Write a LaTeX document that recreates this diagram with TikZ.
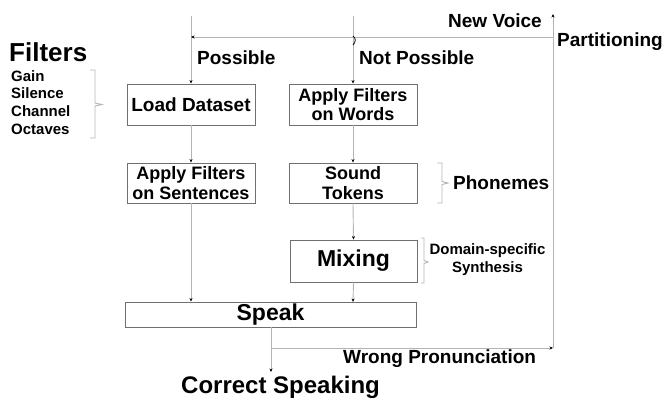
\documentclass[tikz,border=0pt]{standalone}
\usepackage{fontspec}
\setmainfont{Liberation Sans}
\usetikzlibrary{arrows.meta}
\definecolor{conn}{HTML}{B4B4B4}
\definecolor{boxc}{HTML}{707070}
\begin{document}
\begin{tikzpicture}[x=1pt,y=-1pt,
  fs/.style={font=\fontsize{#1}{#1}\selectfont\bfseries},
  stepbox/.style={draw=boxc,line width=0.9pt,minimum width=128pt,minimum height=41pt,align=center,inner sep=0pt,font=\fontsize{18}{19.5}\selectfont\bfseries,text=black},
  lbl/.style={inner sep=0pt,text=black},
  conn/.style={draw=conn,line width=0.9pt},
  arr/.style={conn,-{Stealth[length=3.5pt,width=3pt,color=black]}},
  brace/.style={draw=conn,line width=0.9pt}]
\useasboundingbox (0,0) rectangle (662,401);
% boxes
\node[stepbox,font=\fontsize{19}{19}\selectfont\bfseries] (load) at (191,104.5) {Load Dataset};
\node[stepbox] (words) at (353,104.5) {Apply Filters\\on Words};
\node[stepbox,minimum height=40pt] (sent) at (191,183) {Apply Filters\\on Sentences};
\node[stepbox,minimum height=40pt] (tokens) at (353,183) {Sound\\Tokens};
\node[stepbox,minimum width=127pt,minimum height=42pt,font=\fontsize{23}{23}\selectfont\bfseries] (mix) at (353.5,261) {Mixing};
\node[stepbox,minimum width=291pt,minimum height=25pt,font=\fontsize{23}{23}\selectfont\bfseries] (speak) at (270.5,314.5) {Speak};
% labels
\node[lbl,fs=26,anchor=west] (filters) at (9,52) {Filters};
\node[lbl,anchor=north west,align=left,font=\fontsize{15}{17.8}\selectfont\bfseries] (flist) at (11,70) {Gain\\Silence\\Channel\\Octaves};
\node[lbl,fs=19,anchor=west] (possible) at (197,58) {Possible};
\node[lbl,fs=19,anchor=west] (notpossible) at (359,58) {Not Possible};
\node[lbl,fs=19,anchor=east] (newvoice) at (542,21) {New Voice};
\node[lbl,fs=19,anchor=west] (partition) at (557,42) {Partitioning};
\node[lbl,fs=19,anchor=west] (phonemes) at (453,183) {Phonemes};
\node[lbl,align=center,font=\fontsize{15}{18}\selectfont\bfseries] (domain) at (487.5,259.5) {Domain-specific\\Synthesis};
\node[lbl,fs=19,anchor=west] (wrong) at (343,359) {Wrong Pronunciation};
\node[lbl,fs=24,anchor=west] (correct) at (181,387) {Correct Speaking};
% coordinates
\coordinate (ltop) at (191,16);
\coordinate (rtop) at (353,16);
\coordinate (ptop) at (553,14);
\coordinate (pmid) at (553,37);
\coordinate (lmid) at (191,37);
\coordinate (branch) at (271,348);
\coordinate (pbot) at (553,348);
\coordinate (cend) at (271,372);
% connectors
\draw[arr] (ltop) -- (load.north);
\draw[arr] (rtop) -- (words.north);
\draw[arr] (pmid) -- (lmid);
\draw[black,line width=0.8pt] (353,36) .. controls (356,38) and (356,42) .. (353,45);
\draw[arr] (load.south) -- (sent.north);
\draw[arr] (words.south) -- (tokens.north);
\draw[arr] (tokens.south) -- (mix.north);
\draw[arr] (sent.south) -- (sent.south |- speak.north);
\draw[arr] (mix.south) -- (353,302);
\draw[arr] (speak.south -| branch) -- (cend);
\draw[arr] (branch) -- (pbot);
\draw[arr] (pbot) -- (ptop);
% braces
\draw[brace] (90,70) -- (95,70) -- (95,103) -- (102,104.5) -- (95,106) -- (95,138) -- (90,138);
\draw[brace] (437,163) -- (442,163) -- (442,181.5) -- (448,183) -- (442,184.5) -- (442,203) -- (437,203);
\draw[brace] (421,238) -- (424,238) -- (424,260.5) -- (428,262) -- (424,263.5) -- (424,283) -- (421,283);
\end{tikzpicture}
\end{document}
